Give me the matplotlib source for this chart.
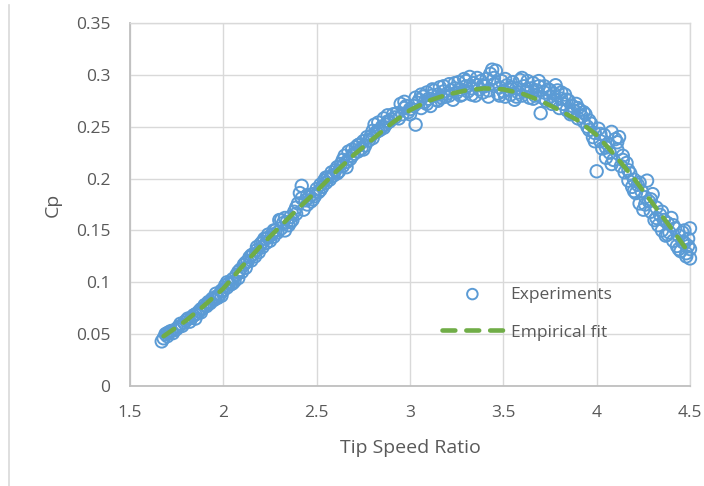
import matplotlib.pyplot as plt
from matplotlib.lines import Line2D

plt.rcParams['font.family'] = ['Open Sans', 'DejaVu Sans']

tsr = [
    1.67, 1.68, 1.69, 1.70, 1.71, 1.72, 1.73, 1.75, 1.76, 1.78, 1.79, 1.80, 1.82, 1.83, 1.84, 1.85, 1.86,
    1.87, 1.88, 1.89, 1.90, 1.91, 1.92, 1.93, 1.94, 1.95, 1.96, 1.97, 1.98, 1.99, 2.00, 2.01, 2.02,
    2.03, 2.04, 2.05, 2.06, 2.07, 2.08, 2.09, 2.10, 2.11, 2.12, 2.13, 2.14, 2.15, 2.16, 2.17, 2.18,
    2.19, 2.20, 2.21, 2.22, 2.23, 2.24, 2.25, 2.26, 2.27, 2.28, 2.29, 2.30, 2.31, 2.32, 2.33, 2.34,
    2.35, 2.36, 2.37, 2.38, 2.39, 2.40, 2.41, 2.42, 2.43, 2.44, 2.45, 2.46, 2.47, 2.48, 2.49, 2.50,
    2.51, 2.52, 2.53, 2.54, 2.55, 2.56, 2.57, 2.58, 2.59, 2.60, 2.61, 2.62, 2.63, 2.64, 2.65, 2.66,
    2.67, 2.68, 2.69, 2.70, 2.71, 2.72, 2.73, 2.74, 2.75, 2.76, 2.78, 2.79, 2.80, 2.81, 2.82, 2.83,
    2.84, 2.85, 2.86, 2.87, 2.88, 2.89, 2.90, 2.92, 2.93, 2.95, 2.96, 2.97, 2.98, 2.99, 3.00, 3.02,
    3.03, 3.04,
    3.05, 3.06, 3.07, 3.08, 3.09, 3.10, 3.11, 3.12, 3.13, 3.14, 3.15, 3.16, 3.17, 3.18, 3.19, 3.20,
    3.21, 3.22, 3.23, 3.24, 3.25, 3.26, 3.27, 3.28, 3.29, 3.30, 3.31, 3.32, 3.33, 3.34, 3.35, 3.36,
    3.37, 3.38, 3.39, 3.40, 3.41, 3.42, 3.43, 3.44, 3.45, 3.46, 3.47, 3.48, 3.49, 3.50,
    3.51, 3.52, 3.53, 3.54, 3.55, 3.56, 3.57, 3.58, 3.59, 3.60, 3.61, 3.62, 3.63, 3.64, 3.65, 3.66,
    3.67, 3.68, 3.69, 3.70, 3.71, 3.72, 3.73, 3.74, 3.75, 3.76, 3.77, 3.78, 3.79, 3.80, 3.81, 3.82,
    3.83, 3.84, 3.85, 3.86, 3.87, 3.88, 3.89, 3.90, 3.91, 3.92, 3.93, 3.94, 3.95, 3.96, 3.97, 3.98,
    3.99, 4.00,
    4.01, 4.02, 4.03, 4.04, 4.05, 4.06, 4.07, 4.08, 4.09, 4.10, 4.11, 4.12, 4.13, 4.14, 4.15, 4.16,
    4.17, 4.18, 4.19, 4.20, 4.21, 4.22, 4.23, 4.24, 4.25, 4.26, 4.27, 4.28, 4.29, 4.30, 4.31, 4.32,
    4.33, 4.34, 4.35, 4.36, 4.37, 4.38, 4.39, 4.40, 4.41, 4.42, 4.43, 4.44, 4.45, 4.46, 4.47, 4.48,
    4.49, 4.50, 4.50, 4.49,
    # second pass over the band
    1.70, 1.74, 1.77, 1.81, 1.85, 1.88, 1.92, 1.96, 1.99, 2.02,
    2.05, 2.08, 2.12, 2.15, 2.18, 2.21, 2.24, 2.27, 2.31, 2.33, 2.36, 2.39, 2.42, 2.45, 2.48,
    2.52, 2.55, 2.58, 2.61, 2.64, 2.66, 2.69, 2.72, 2.75, 2.77, 2.80, 2.83, 2.86, 2.88, 2.91,
    2.94, 2.97, 3.00, 3.03, 3.06, 3.09, 3.12, 3.15, 3.18, 3.21, 3.24, 3.27, 3.30, 3.33, 3.36,
    3.39, 3.42, 3.45, 3.48, 3.51, 3.54, 3.57, 3.60, 3.63, 3.66, 3.69, 3.72, 3.75, 3.78, 3.81,
    3.84, 3.87, 3.90, 3.93, 3.96, 3.99, 4.02, 4.05, 4.08, 4.11, 4.14, 4.17, 4.20, 4.23, 4.26,
    4.29, 4.32, 4.35, 4.38, 4.41, 4.44, 4.47, 4.50, 4.48, 4.46,
]
cp = [
    0.043, 0.046, 0.050, 0.048, 0.052, 0.053, 0.051, 0.055, 0.057, 0.058, 0.061, 0.063, 0.062, 0.066, 0.068, 0.065, 0.070,
    0.072, 0.071, 0.075, 0.078, 0.077, 0.081, 0.080, 0.084, 0.083, 0.086, 0.085, 0.088, 0.087, 0.092, 0.097, 0.095,
    0.099, 0.098, 0.103, 0.101, 0.107, 0.104, 0.112, 0.110, 0.117, 0.114, 0.120, 0.124, 0.121, 0.127, 0.125, 0.131,
    0.129, 0.137, 0.134, 0.142, 0.138, 0.143, 0.140, 0.146, 0.144, 0.150, 0.148, 0.160, 0.152, 0.157, 0.150, 0.158,
    0.155, 0.163, 0.160, 0.168, 0.172, 0.176, 0.186, 0.193, 0.170, 0.179, 0.175, 0.182, 0.178, 0.185, 0.183, 0.190,
    0.187, 0.194, 0.192, 0.198, 0.196, 0.201, 0.199, 0.206, 0.203, 0.208, 0.211, 0.207, 0.214, 0.212, 0.222, 0.216,
    0.226, 0.219, 0.228, 0.224, 0.230, 0.226, 0.233, 0.229, 0.236, 0.232, 0.237, 0.241, 0.239, 0.252, 0.245, 0.254,
    0.247, 0.250, 0.258, 0.252, 0.261, 0.255, 0.257, 0.259, 0.263, 0.272, 0.262, 0.268, 0.270, 0.264, 0.267, 0.270,
    0.252, 0.273,
    0.276, 0.268, 0.279, 0.274, 0.283, 0.277, 0.270, 0.280, 0.285, 0.276, 0.281, 0.288, 0.278, 0.284, 0.279, 0.282,
    0.291, 0.285, 0.276, 0.287, 0.283, 0.293, 0.286, 0.281, 0.296, 0.289, 0.284, 0.298, 0.287, 0.292, 0.280, 0.290,
    0.286, 0.294, 0.283, 0.289, 0.296, 0.285, 0.301, 0.305, 0.291, 0.304, 0.282, 0.288, 0.294, 0.284,
    0.279, 0.290, 0.286, 0.281, 0.293, 0.276, 0.287, 0.283, 0.295, 0.280, 0.289, 0.284, 0.294, 0.278, 0.287, 0.292,
    0.280, 0.285, 0.289, 0.263, 0.278, 0.283, 0.275, 0.286, 0.279, 0.272, 0.282, 0.276, 0.285, 0.268, 0.277, 0.272,
    0.281, 0.266, 0.275, 0.262, 0.270, 0.265, 0.272, 0.258, 0.266, 0.260, 0.255, 0.262, 0.250, 0.247, 0.253, 0.240,
    0.244, 0.207,
    0.248, 0.236, 0.229, 0.242, 0.220, 0.233, 0.225, 0.245, 0.218, 0.238, 0.228, 0.240, 0.212, 0.222, 0.206, 0.215,
    0.198, 0.205, 0.192, 0.199, 0.186, 0.194, 0.176, 0.188, 0.170, 0.182, 0.198, 0.178, 0.168, 0.185, 0.160, 0.172,
    0.155, 0.165, 0.150, 0.160, 0.145, 0.157, 0.148, 0.162, 0.140, 0.152, 0.135, 0.145, 0.130, 0.148, 0.138, 0.128,
    0.142, 0.123, 0.152, 0.135,
    # second pass over the band
    0.051, 0.054, 0.060, 0.065, 0.069, 0.074, 0.079, 0.089, 0.092, 0.100,
    0.099, 0.110, 0.119, 0.126, 0.134, 0.139, 0.146, 0.150, 0.160, 0.162, 0.158, 0.166, 0.181, 0.184, 0.180,
    0.189, 0.201, 0.202, 0.205, 0.218, 0.211, 0.222, 0.232, 0.228, 0.240, 0.246, 0.246, 0.249, 0.255, 0.262,
    0.258, 0.274, 0.262, 0.278, 0.281, 0.272, 0.286, 0.275, 0.289, 0.280, 0.292, 0.280, 0.294, 0.281, 0.297,
    0.290, 0.279, 0.297, 0.280, 0.296, 0.288, 0.279, 0.297, 0.286, 0.277, 0.294, 0.289, 0.285, 0.290, 0.283,
    0.276, 0.263, 0.268, 0.264, 0.256, 0.236, 0.243, 0.230, 0.214, 0.235, 0.218, 0.208, 0.188, 0.196, 0.175,
    0.180, 0.162, 0.168, 0.146, 0.155, 0.132, 0.150, 0.132, 0.125, 0.139,
]

# ----- Empirical fit curve -----
fit_tsr = [1.68, 1.8, 1.9, 2.0, 2.1, 2.2, 2.3, 2.4, 2.5, 2.6, 2.7, 2.8, 2.9, 3.0, 3.1,
           3.2, 3.3, 3.4, 3.5, 3.6, 3.7, 3.8, 3.9, 4.0, 4.1, 4.2, 4.3, 4.4, 4.5]
fit_cp = [0.048, 0.063, 0.078, 0.094, 0.115, 0.135, 0.153, 0.171, 0.188, 0.206, 0.223, 0.238,
          0.253, 0.266, 0.275, 0.281, 0.285, 0.287, 0.286, 0.282, 0.275, 0.266, 0.256, 0.242,
          0.222, 0.200, 0.176, 0.152, 0.127]

x_ticks = [1.5, 2, 2.5, 3, 3.5, 4, 4.5]
y_ticks = [0, 0.05, 0.1, 0.15, 0.2, 0.25, 0.3, 0.35]

blue = "#5B9BD5"
green = "#70AD47"
text_col = "#595959"

fig = plt.figure(figsize=(7.04, 4.86), dpi=100)
ax = fig.add_axes([130 / 704, 1 - 386 / 486, 560 / 704, 363 / 486])

ax.scatter(tsr, cp, s=80, facecolors="none", edgecolors=blue, linewidths=1.4,
           label="Experiments", zorder=3, clip_on=False)
ax.plot(fit_tsr, fit_cp, color=green, linewidth=3.3, dashes=(2.8, 2.4),
        dash_capstyle="round", label="Empirical fit", zorder=4, clip_on=False)

ax.set_xlim(1.5, 4.5)
ax.set_ylim(0, 0.35)
ax.set_xticks(x_ticks)
ax.set_xticklabels([f"{v:g}" for v in x_ticks])
ax.set_yticks(y_ticks)
ax.set_yticklabels([f"{v:g}" for v in y_ticks])
ax.grid(True, color="#d9d9d9", linewidth=1.0)
ax.set_axisbelow(True)
ax.tick_params(length=0, labelsize=12.5, colors=text_col)
ax.tick_params(axis="y", pad=14)
ax.tick_params(axis="x", pad=14)

for side in ["left", "bottom"]:
    ax.spines[side].set_color("#bfbfbf")
    ax.spines[side].set_linewidth(1.3)
for side in ["top", "right"]:
    ax.spines[side].set_color("#d9d9d9")
    ax.spines[side].set_linewidth(1.0)

ax.set_xlabel("Tip Speed Ratio", fontsize=14, color=text_col)
ax.set_ylabel("Cp", fontsize=14, color=text_col)
ax.xaxis.label.set_va("center")
ax.yaxis.label.set_va("center")
ax.xaxis.set_label_coords(0.5, -0.171)
ax.yaxis.set_label_coords(-0.1375, 0.5)

fig.legend(loc="center left", bbox_to_anchor=(442 / 704, 1 - 313.5 / 486),
           frameon=False, fontsize=12.5, labelcolor=text_col, handlelength=3.5,
           handletextpad=0.45, labelspacing=1.25, borderpad=0, borderaxespad=0,
           markerscale=0.85)

# thin border fragment on the left edge
fig.add_artist(Line2D([9 / 704, 9 / 704], [0.0, 1 - 5 / 486], color="#d9d9d9", linewidth=1.2))

fig.savefig("out.png", dpi=100)
